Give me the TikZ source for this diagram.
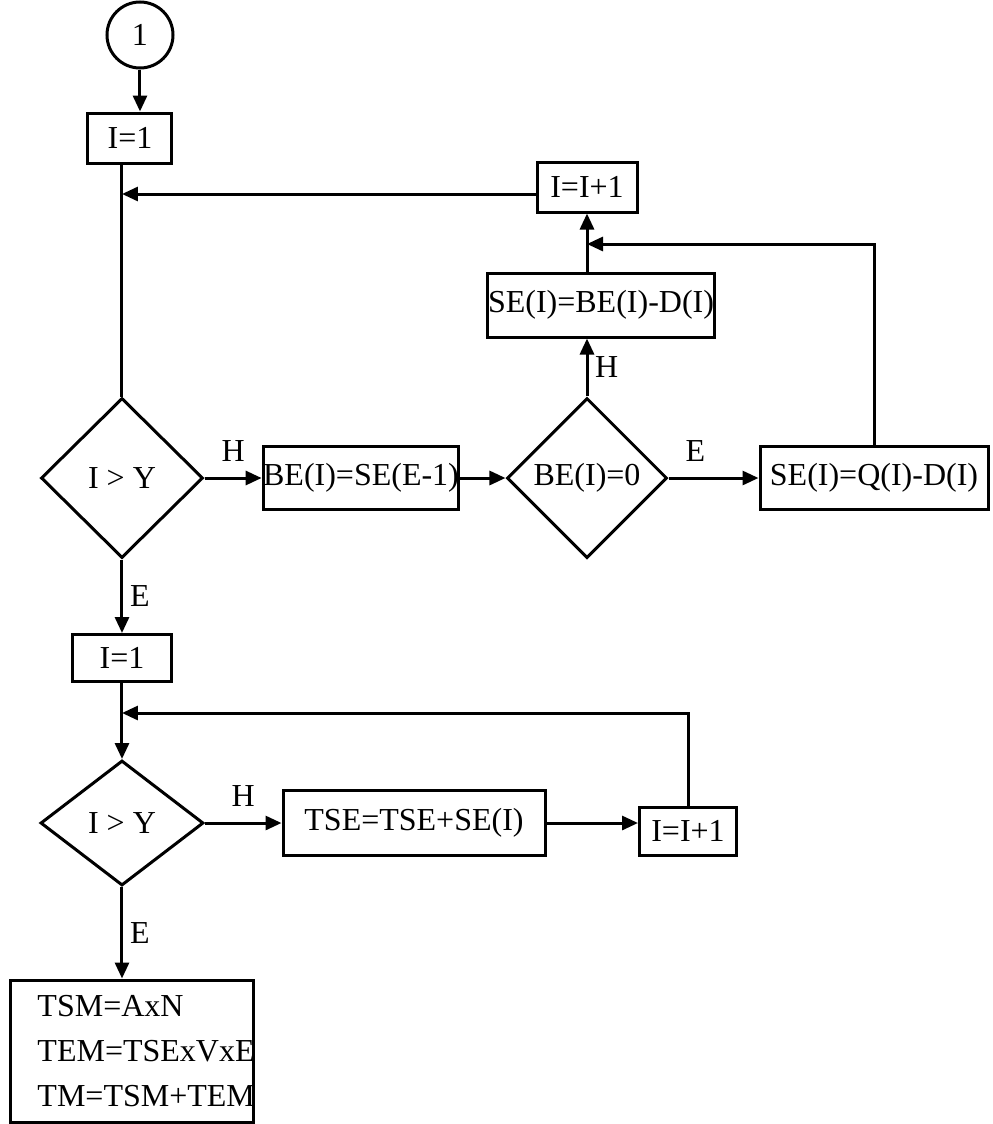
\documentclass[tikz,border=0pt]{standalone}
\usepackage{fontspec}
\setmainfont{Liberation Serif}
\usetikzlibrary{positioning,shapes.geometric,arrows.meta}

\begin{document}
\begin{tikzpicture}[-,>={Triangle[length=8pt,width=7pt]},line width=1.5pt,font=\fontsize{16}{19}\selectfont,
    start node/.style={circle,draw,minimum size=33pt,inner sep=0pt},
    proc node/.style={rectangle,draw,inner sep=0pt},
    test node/.style={diamond,draw,inner sep=0pt,minimum width=81pt,minimum height=80pt}]

                \useasboundingbox (-70pt,17.5pt) rectangle (426pt,-544.5pt);

                \node[start node] (1) []{1};
                \node[proc node, minimum width=42pt, minimum height=25pt] (2) [node distance=51.5pt, below of = 1, xshift=-5pt]{I=1};
                \node[test node] (3) [node distance=170pt, below of = 2, xshift=-4pt]{I > Y};
                \node[proc node, minimum width=96.5pt, minimum height=31.5pt] (4) [node distance=119.5pt, right of = 3]{BE(I)=SE(E-1)};
                \node[test node, minimum width=80pt] (5) [node distance=113pt, right of = 4]{BE(I)=0};
                \node[proc node, minimum width=114pt, minimum height=31.5pt] (6) [node distance=143.5pt, right of = 5]{SE(I)=Q(I)-D(I)};
                \node[proc node, minimum width=113.5pt, minimum height=32pt] (7) [node distance=86.5pt, above of = 5, xshift=7pt]{SE(I)=BE(I)-D(I)};
                \node[proc node, minimum width=50pt, minimum height=25pt] (8) [node distance=145.5pt, above of = 5]{I=I+1};
                \node[proc node, minimum width=49.5pt, minimum height=23.5pt] (9) [node distance=90pt, below of = 3]{I=1};
                \node[test node, minimum width=81.5pt, minimum height=62.5pt] (10) [node distance=82.5pt, below of = 9]{I > Y};
                \node[proc node, minimum width=131pt, minimum height=32.5pt] (11) [node distance=146pt, right of = 10]{TSE=TSE+SE(I)};
                \node[proc node, minimum width=48.5pt, minimum height=24pt] (12) [node distance=137pt, right of = 11, yshift=-4pt]{I=I+1};
                \node[proc node, minimum height=71pt, text width=121.5pt, align=left] (13) [node distance=114pt, below of = 10, xshift=5pt]{\hspace*{13.5pt}TSM=AxN\\[3.5pt]\hspace*{13.5pt}TEM=TSExVxE\\[3.5pt]\hspace*{13.5pt}TM=TSM+TEM};

                \coordinate[node distance=142pt, above of = 3] (a);
                \coordinate[node distance=117pt, above of = 5] (b);
                \coordinate[node distance=55pt, above of = 10] (c);

                \draw[->] (1) to (1 |- 2.north);
                \draw (3.north |- 2.south) to (3.north);
                \draw[->] (8.west |- a) to (a);
                \draw[->] (3) to node[above=4pt]{H} (4);
                \draw[->] (4) to (5);
                \draw[->] (5) to node[above=4pt, pos=0.3]{E} (6);
                \draw[->] (5) to node[right]{H} (5 |- 7.south);
                \draw[->] (8.south |- 7.north) to (8.south);
                \draw[->] (6.north) |- (b);
                \draw[->] (3) to node[right]{E} (9);
                \draw[->] (9) to (10);
                \draw[->] (12.north) |- (c);
                \draw[->] (10) to node[above=4pt]{H} (11);
                \draw[->] (11) to (11 -| 12.west);
                \draw[->] (10) to node[right]{E} (10.south |- 13.north);

                ;
            \end{tikzpicture}
\end{document}
